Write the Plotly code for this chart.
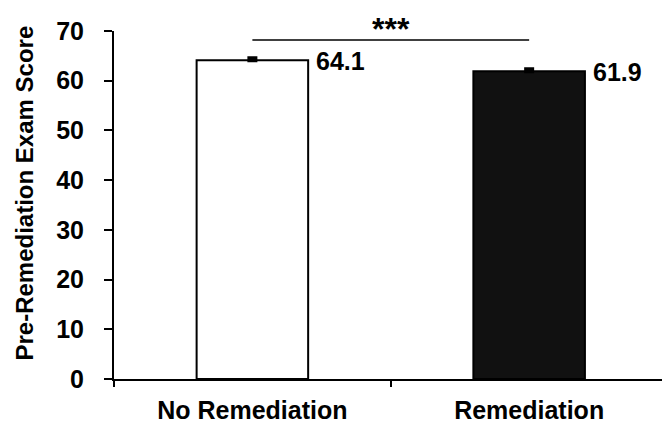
import plotly.graph_objects as go

categories = ["No Remediation", "Remediation"]
scores = [64.1, 61.9]
sem = [0.4, 0.4]
bar_fills = ["white", "#111111"]
value_labels = ["64.1", "61.9"]
sig_text = "***"
sig_level = 68.2
y_ticks = [0, 10, 20, 30, 40, 50, 60, 70]
y_title = "Pre-Remediation Exam Score"

FONT = "Liberation Sans, Arial, sans-serif"

fig = go.Figure()
fig.add_trace(go.Bar(
    x=categories, y=scores,
    marker=dict(color=bar_fills, line=dict(color="black", width=2)),
    error_y=dict(type="data", array=sem, arrayminus=[0, 0], symmetric=False,
                 thickness=4, width=5, color="black"),
    showlegend=False,
))

for cat, val, lab in zip(categories, scores, value_labels):
    fig.add_annotation(x=cat, y=val, text=lab, showarrow=False,
                       xanchor="left", yanchor="middle", xshift=62, yshift=-1,
                       font=dict(family=FONT, size=25, color="black", weight="bold"))

fig.add_shape(type="line", xref="x", yref="y", x0=categories[0], x1=categories[1],
              y0=sig_level, y1=sig_level, line=dict(color="black", width=1.5))
fig.add_annotation(x=0.5, y=sig_level, xref="x", yref="y", text=sig_text, showarrow=False,
                   xanchor="center", yanchor="bottom", yshift=-9,
                   font=dict(family=FONT, size=32, color="black", weight="bold"))

# y-axis title placed as a rotated annotation
fig.add_annotation(x=-0.1624, y=0.533, xref="paper", yref="paper", text=y_title,
                   textangle=-90, showarrow=False, xanchor="center", yanchor="middle",
                   font=dict(family=FONT, size=24, color="black", weight="bold"))

fig.update_layout(
    width=662, height=423,
    margin=dict(l=114, r=0, t=31, b=44, autoexpand=False),
    paper_bgcolor="white", plot_bgcolor="white",
    bargap=0.597,
    font=dict(family=FONT, size=25, color="black", weight="bold"),
)
fig.update_xaxes(type="category", range=[-0.5, 1.48], tickson="boundaries",
                 automargin=False,
                 showline=True, linecolor="black", linewidth=2,
                 ticks="outside", ticklen=6, tickwidth=2, tickcolor="black",
                 ticklabelstandoff=8, showgrid=False, zeroline=False,
                 tickfont=dict(family=FONT, size=25, color="black", weight="bold"))
fig.update_yaxes(range=[0, 70], tickvals=y_ticks, automargin=False,
                 showline=True, linecolor="black", linewidth=2,
                 ticks="outside", ticklen=8, tickwidth=2, tickcolor="black",
                 ticklabelstandoff=15, showgrid=False, zeroline=False,
                 tickfont=dict(family=FONT, size=25, color="black", weight="bold"))

fig.write_html("out.html", config={"displayModeBar": False},
               post_script="document.body.style.margin='0';document.body.style.overflow='hidden';")
